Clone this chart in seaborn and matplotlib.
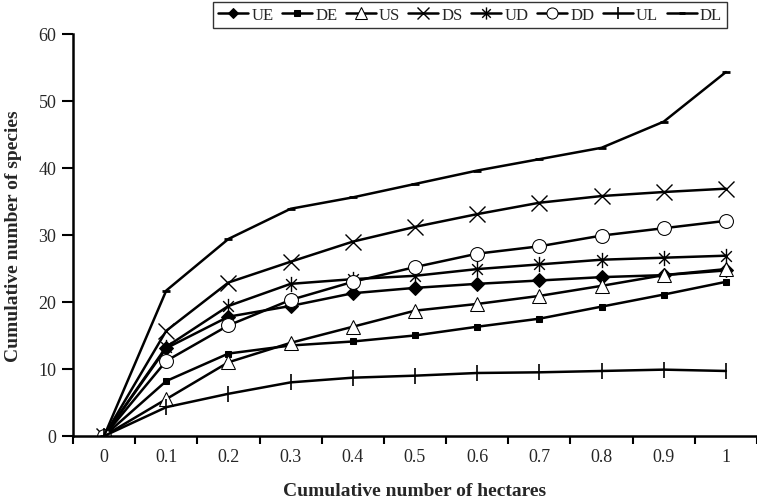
import numpy as np
import seaborn as sns
from matplotlib import pyplot as plt
from matplotlib.path import Path


hectares = ["0", "0.1", "0.2", "0.3", "0.4", "0.5", "0.6", "0.7", "0.8", "0.9", "1"]

ue = [0, 13.1, 17.8, 19.4, 21.3, 22.1, 22.7, 23.2, 23.7, 24.0, 24.7]
de = [0, 8.2, 12.3, 13.5, 14.1, 15.0, 16.3, 17.5, 19.3, 21.1, 23.0]
us = [0, 5.5, 11.0, 13.9, 16.3, 18.7, 19.7, 20.9, 22.4, 24.0, 24.9]
ds = [0, 15.7, 22.9, 26.0, 29.0, 31.2, 33.1, 34.8, 35.8, 36.4, 36.9]
ud = [0, 13.3, 19.4, 22.7, 23.4, 23.9, 24.9, 25.6, 26.3, 26.6, 26.9]
dd = [0, 11.2, 16.5, 20.3, 23.0, 25.2, 27.2, 28.3, 29.9, 31.0, 32.1]
ul = [0, 4.3, 6.3, 8.0, 8.7, 9.0, 9.4, 9.5, 9.7, 9.9, 9.7]
dl = [0, 21.7, 29.4, 33.9, 35.6, 37.6, 39.6, 41.3, 43.0, 46.9, 54.3]

# excel style asterisk: x plus a vertical bar
asterisk = Path([(0, -1), (0, 1), (-0.7, -0.7), (0.7, 0.7), (-0.7, 0.7), (0.7, -0.7)],
                [Path.MOVETO, Path.LINETO, Path.MOVETO, Path.LINETO, Path.MOVETO, Path.LINETO])

series = [
    ("UE", ue, dict(marker="D", markersize=7, markerfacecolor="black")),
    ("DE", de, dict(marker="s", markersize=5, markerfacecolor="black")),
    ("US", us, dict(marker="^", markersize=10, markerfacecolor="white")),
    ("DS", ds, dict(marker="x", markersize=11, markeredgewidth=1.0)),
    ("UD", ud, dict(marker=asterisk, markersize=11, markeredgewidth=1.0)),
    ("DD", dd, dict(marker="o", markersize=10, markerfacecolor="white")),
    ("UL", ul, dict(marker="|", markersize=11, markeredgewidth=1.2)),
    ("DL", dl, dict(marker="_", markersize=6, markeredgewidth=2)),
]

sns.set_style("white")
plt.rcParams["font.family"] = ["Liberation Serif", "DejaVu Serif"]

fig = plt.figure(figsize=(7.57, 5.02), dpi=100)
ax = fig.add_axes([0.0964, 0.1295, 0.9036, 0.8011])

pos = np.arange(len(hectares))
for name, values, style in series:
    sns.lineplot(x=pos, y=values, ax=ax, color="black", linewidth=1.8,
                 markeredgecolor="black", label=name, **style)

ax.set_xlim(-0.5, len(hectares) - 0.5)
ax.set_ylim(0, 60)
ax.set_yticks(range(0, 61, 10))

# category labels in the middle, ticks on the boundaries
ax.set_xticks(np.arange(-0.5, len(hectares) - 0.4, 1.0))
ax.set_xticklabels([])
ax.set_xticks(pos, minor=True)
ax.set_xticklabels(hectares, minor=True)
ax.tick_params(axis="x", which="major", direction="out", length=6, width=1.5, color="black")
ax.tick_params(axis="x", which="minor", length=0, labelsize=13, pad=9)
ax.tick_params(axis="y", direction="out", length=8, width=1.5, color="black", labelsize=13, pad=4)
ax.tick_params(bottom=True, left=True)

for side in ["top", "right"]:
    ax.spines[side].set_visible(False)
for side in ["left", "bottom"]:
    ax.spines[side].set_color("black")
    ax.spines[side].set_linewidth(1.8)

ax.set_xlabel("Cumulative number of hectares", fontsize=14, fontweight="bold", labelpad=12)
ax.set_ylabel("Cumulative number of species", fontsize=14, fontweight="bold", labelpad=12)

ax.legend(loc="upper center", bbox_to_anchor=(470 / 757, 1 - 3 / 502),
          bbox_transform=fig.transFigure, ncol=8, fontsize=12, frameon=True,
          fancybox=False, edgecolor="black", handlelength=1.8, handletextpad=0.2,
          columnspacing=0.5, borderpad=0.3, borderaxespad=0, markerscale=0.8)
ax.get_legend().get_frame().set_linewidth(1.0)

plt.savefig("out.png", dpi=100)
